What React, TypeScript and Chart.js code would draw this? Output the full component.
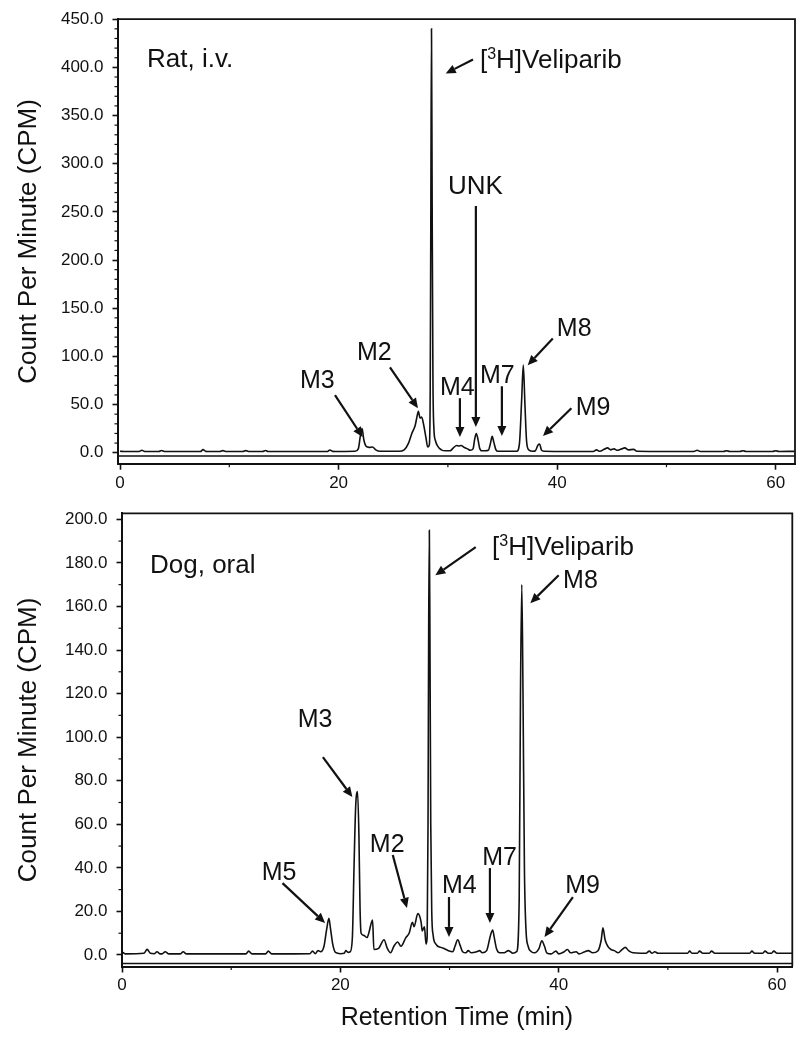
import React, { useEffect, useRef } from 'react';
import { Chart, registerables } from 'chart.js';

Chart.register(...registerables);

const FONT_FAMILY = '"Liberation Sans", Arial, Helvetica, sans-serif';
const INK = '#111111';

// ---------------- data ----------------
// Rat, i.v. chromatogram: retention time (min) and counts per minute
const ratTime = [
  0, 0.5, 1.5, 1.75, 2.0, 2.25, 2.4, 3.55, 3.8, 4.05, 4.2, 6.0, 7.35, 7.6, 7.85, 8.0,
  9.15, 9.4, 9.65, 9.8, 11.25, 11.5, 11.75, 11.9, 13.05, 13.3, 13.55, 13.8, 16.0,
  18.95, 19.2, 19.45, 19.7,
  21.5, 21.8, 22.0, 22.15, 22.3, 22.5, 22.8, 23.1, 23.4, 23.8,
  25.5, 26.0, 26.4, 26.7, 27.0, 27.15, 27.3, 27.45, 27.6, 27.8, 28.0, 28.15,
  28.3, 28.38, 28.44, 28.5, 28.56, 28.63, 28.72, 28.85, 29.05, 29.4, 29.8,
  30.2, 30.5, 30.8, 31.0, 31.2, 31.5, 31.8, 32.05,
  32.3, 32.45, 32.6, 32.75, 32.9, 33.1, 33.4,
  33.7, 33.9, 34.05, 34.2, 34.4, 34.6, 35.5,
  36.3, 36.55, 36.75, 36.9, 37.05, 37.2, 37.4, 37.8,
  38.0, 38.25, 38.4, 38.55, 38.8, 41.0,
  43.3, 43.6, 43.9, 44.3, 44.6, 44.9, 45.2, 45.5, 45.8, 46.2, 46.5, 47.0, 47.3,
  50.0, 52.5, 52.8, 53.1, 55.2, 55.5, 55.8, 56.7, 57.0, 57.3, 59.7, 60.0, 60.3, 61.7,
];
const ratCpm = [
  1.5, 1.2, 1.3, 1.2, 2.5, 1.3, 1.2, 1.2, 2.3, 1.3, 1.2, 1.3, 1.2, 3.2, 1.4, 1.3,
  1.2, 2.2, 1.3, 1.2, 1.2, 2.2, 1.3, 1.2, 1.2, 2.3, 1.3, 1.2, 1.3,
  1.2, 2.8, 1.4, 1.3,
  1.5, 4, 18, 25, 14, 7, 5.5, 6, 3, 1.5,
  1.5, 3, 10, 20, 28, 36, 43, 36, 37, 28, 15, 6,
  8, 60, 250, 440, 260, 80, 25, 13, 7, 3, 2,
  2, 5, 7.5, 7, 7.5, 5.5, 4, 2.5,
  4, 14, 20, 14, 5, 2, 2,
  2.5, 10, 17, 11, 3, 1.5, 1.5,
  1.5, 10, 55, 91, 50, 12, 3, 1.5,
  2, 8, 9, 3, 1.5, 1.3,
  1.3, 3, 1.5, 3.5, 5, 3, 4, 2.5, 3.5, 5, 3, 3.5, 1.5,
  1.3, 1.3, 2.5, 1.3, 1.3, 2.0, 1.3, 1.3, 2.0, 1.3, 1.3, 2.0, 1.3, 1.4,
];

// Dog, oral chromatogram
const dogTime = [
  0, 0.3, 2.0, 2.3, 2.6, 2.95, 3.2, 3.5, 3.7, 3.95, 4.3, 5.35, 5.6, 5.9,
  11.35, 11.6, 11.9, 13.15, 13.4, 13.7,
  17.2, 17.45, 17.7, 17.95, 18.2,
  18.5, 18.75, 18.95, 19.1, 19.3, 19.55, 20.0, 20.35, 20.5, 20.7, 20.9,
  21.1, 21.25, 21.4, 21.57, 21.7, 21.8, 21.9, 22.15, 22.45, 22.6, 22.95, 23.07,
  23.5, 24.0, 24.3, 24.6, 24.9, 25.25, 25.55, 26.0, 26.3, 26.6, 26.75, 27.1, 27.4, 27.5, 27.7, 27.85,
  27.95, 28.03, 28.09, 28.15, 28.21, 28.28, 28.37, 28.5, 28.75, 29.2, 29.5, 29.9,
  30.3, 30.5, 30.75, 31.0, 31.2, 31.5, 31.7, 32.0, 32.5, 32.75, 33.0,
  33.4, 33.75, 33.95, 34.1, 34.3, 34.6, 35.0, 35.4, 35.8,
  36.15, 36.38, 36.5, 36.62, 36.73, 36.86, 37.0, 37.2, 37.5, 37.8,
  38.2, 38.45, 38.7, 38.9, 39.3, 39.75, 40.0, 40.5, 40.8, 41.1, 41.6, 41.85, 42.4, 42.7, 43.1,
  43.6, 43.9, 44.05, 44.25, 44.5, 44.8, 45.1, 45.45, 45.8, 46.1, 46.4, 46.8,
  47.5, 48.0, 48.3, 48.55, 48.8, 49.1, 51.8, 52.0, 52.2, 52.7, 52.9, 53.2, 53.8, 54.0, 54.3,
  57.5, 57.7, 57.95, 58.7, 58.9, 59.2, 59.5, 59.7, 60.0, 61.4,
];
const dogCpm = [
  1.5, 0.5, 0.8, 2.6, 0.8, 0.6, 1.5, 0.5, 0.6, 1.5, 0.5, 0.5, 1.5, 0.5,
  0.5, 1.8, 0.5, 0.5, 1.8, 0.5,
  0.6, 1.8, 0.6, 2, 1.5,
  4, 12, 16.8, 12, 5, 1.2, 0.6, 0.8, 2, 1.2, 1.5,
  8, 40, 68, 75, 55, 22, 10, 9, 8, 10, 16, 2.5,
  3, 7, 3, 1, 4, 6, 4, 8, 10, 15, 13, 19, 15, 11, 13, 5,
  8, 60, 150, 195, 140, 60, 20, 9, 5, 3.5, 3, 2,
  1.5, 4, 7, 4, 1.5, 1, 2, 1, 1.5, 2, 1,
  2, 9, 11.5, 8, 3, 1, 1, 2, 0.8,
  1.5, 25, 120, 170, 120, 40, 12, 4, 1.5, 1,
  3, 6.5, 4, 1, 0.5, 1.8, 0.5, 1.5, 2.5, 1, 1.5, 0.5, 1.5, 2, 1,
  2, 7, 12.5, 7, 4, 2.5, 2, 1, 2.5, 3.5, 2, 1,
  0.8, 0.8, 1.8, 0.8, 1.5, 0.8, 0.8, 1.8, 0.8, 0.8, 1.8, 0.8, 0.8, 1.8, 0.8,
  0.8, 1.8, 0.8, 0.8, 1.8, 0.8, 0.8, 1.8, 0.8, 0.8,
];

// axis ticks
const xTickValues = [0, 20, 40, 60];
const xMinorTickValues = [10, 30, 50];
const ratYTickValues = [0, 50, 100, 150, 200, 250, 300, 350, 400, 450];
const dogYTickValues = [0, 20, 40, 60, 80, 100, 120, 140, 160, 180, 200];

// text
const yTitle = 'Count Per Minute (CPM)';
const xTitle = 'Retention Time (min)';

type Note = { text: string; x: number; y: number; size: number; arrow?: number[] };

// annotations: text anchor (data units) and arrow tail -> head (data units)
const ratNotes: Note[] = [
  { text: 'Rat, i.v.', x: 2.47, y: 400.9, size: 26 },
  { text: '[3H]Veliparib', x: 32.93, y: 398.9, size: 26, arrow: [32.3, 408.2, 29.8, 393.7] },
  { text: 'UNK', x: 30.0, y: 268.6, size: 26, arrow: [32.56, 256.1, 32.56, 26.6] },
  { text: 'M4', x: 29.27, y: 59.7, size: 25, arrow: [31.1, 56.6, 31.1, 16.2] },
  { text: 'M7', x: 32.93, y: 72.1, size: 25, arrow: [34.94, 69.0, 34.94, 17.3] },
  { text: 'M8', x: 39.97, y: 120.7, size: 25, arrow: [39.6, 118.6, 37.3, 90.7] },
  { text: 'M9', x: 41.7, y: 39.0, size: 25, arrow: [41.3, 46.2, 38.7, 17.3] },
  { text: 'M3', x: 16.46, y: 66.9, size: 25, arrow: [19.67, 59.7, 22.2, 16.2] },
  { text: 'M2', x: 21.68, y: 95.9, size: 25, arrow: [24.7, 88.6, 27.26, 46.2] },
];

const dogNotes: Note[] = [
  { text: 'Dog, oral', x: 2.56, y: 175.2, size: 26 },
  { text: '[3H]Veliparib', x: 33.9, y: 183.5, size: 26, arrow: [32.4, 187.2, 28.7, 174.3] },
  { text: 'M8', x: 40.4, y: 168.3, size: 25, arrow: [40.0, 174.3, 37.4, 161.5] },
  { text: 'M3', x: 16.1, y: 104.6, size: 25, arrow: [18.4, 90.8, 21.1, 72.5] },
  { text: 'M2', x: 22.7, y: 47.2, size: 25, arrow: [24.8, 45.9, 26.1, 21.6] },
  { text: 'M5', x: 12.8, y: 34.4, size: 25, arrow: [14.7, 33.0, 18.6, 14.7] },
  { text: 'M4', x: 29.3, y: 28.4, size: 25, arrow: [29.95, 26.6, 29.95, 8.3] },
  { text: 'M7', x: 33.0, y: 41.3, size: 25, arrow: [33.7, 39.9, 33.7, 14.7] },
  { text: 'M9', x: 40.6, y: 28.4, size: 25, arrow: [41.3, 26.6, 38.7, 8.3] },
];

// ---------------- drawing helpers ----------------
function drawArrow(ctx: CanvasRenderingContext2D, x1: number, y1: number, x2: number, y2: number) {
  const ang = Math.atan2(y2 - y1, x2 - x1);
  const head = 10;
  const half = 4.5;
  const bx = x2 - head * Math.cos(ang);
  const by = y2 - head * Math.sin(ang);
  ctx.lineWidth = 2.2;
  ctx.beginPath();
  ctx.moveTo(x1, y1);
  ctx.lineTo(bx, by);
  ctx.stroke();
  ctx.beginPath();
  ctx.moveTo(x2, y2);
  ctx.lineTo(bx + half * Math.sin(ang), by - half * Math.cos(ang));
  ctx.lineTo(bx - half * Math.sin(ang), by + half * Math.cos(ang));
  ctx.closePath();
  ctx.fill();
}

function drawNoteText(ctx: CanvasRenderingContext2D, text: string, px: number, py: number, size: number) {
  ctx.textAlign = 'left';
  ctx.textBaseline = 'alphabetic';
  const big = `${size}px ${FONT_FAMILY}`;
  const small = `${Math.round(size * 0.62)}px ${FONT_FAMILY}`;
  const m = text.match(/^\[(\d)([A-Z])\](.*)$/);
  if (!m) {
    ctx.font = big;
    ctx.fillText(text, px, py);
    return;
  }
  let x = px;
  ctx.font = big;
  ctx.fillText('[', x, py);
  x += ctx.measureText('[').width;
  ctx.font = small;
  ctx.fillText(m[1], x, py - size * 0.36);
  x += ctx.measureText(m[1]).width;
  ctx.font = big;
  ctx.fillText(m[2] + ']' + m[3], x, py);
}

type PanelCfg = {
  time: number[];
  cpm: number[];
  xMin: number;
  xMax: number;
  yMin: number;
  yMax: number;
  yTicks: number[];
  yMinorStep: number;
  boxBottom: number;
  notes: Note[];
  padding: { top: number; right: number; bottom: number; left: number };
  yAxisWidth: number;
  xAxisHeight: number;
  showXTitle: boolean;
};

function decorPlugin(cfg: PanelCfg) {
  return {
    id: 'decor',
    afterDraw(chart: any) {
      const { ctx, chartArea: a, scales } = chart;
      const xs = scales.x;
      const ys = scales.y;
      ctx.save();
      ctx.strokeStyle = INK;
      ctx.fillStyle = INK;
      ctx.lineWidth = 1.8;
      // frame: top and right
      ctx.beginPath();
      ctx.moveTo(a.left, a.top);
      ctx.lineTo(a.right, a.top);
      ctx.lineTo(a.right, a.bottom);
      ctx.stroke();
      // inner frame bottom line
      const yb = ys.getPixelForValue(cfg.boxBottom);
      ctx.lineWidth = 1.5;
      ctx.beginPath();
      ctx.moveTo(a.left, yb);
      ctx.lineTo(a.right, yb);
      ctx.stroke();
      // minor y ticks
      const majorStep = cfg.yTicks[1] - cfg.yTicks[0];
      ctx.lineWidth = 1.2;
      for (let v = 0; v <= cfg.yTicks[cfg.yTicks.length - 1]; v += cfg.yMinorStep) {
        if (Math.abs(v % majorStep) < 1e-6) continue;
        const py = ys.getPixelForValue(v);
        ctx.beginPath();
        ctx.moveTo(a.left - 3, py);
        ctx.lineTo(a.left + 1, py);
        ctx.stroke();
      }
      // minor x ticks
      for (const v of xMinorTickValues) {
        const px = xs.getPixelForValue(v);
        ctx.beginPath();
        ctx.moveTo(px, a.bottom);
        ctx.lineTo(px, a.bottom + 3.5);
        ctx.stroke();
      }
      // annotations
      for (const n of cfg.notes) {
        if (n.arrow) {
          drawArrow(
            ctx,
            xs.getPixelForValue(n.arrow[0]),
            ys.getPixelForValue(n.arrow[1]),
            xs.getPixelForValue(n.arrow[2]),
            ys.getPixelForValue(n.arrow[3])
          );
        }
        drawNoteText(ctx, n.text, xs.getPixelForValue(n.x), ys.getPixelForValue(n.y), n.size);
      }
      ctx.restore();
    },
  };
}

function makeChart(canvas: HTMLCanvasElement, cfg: PanelCfg) {
  const points = cfg.time.map((t, i) => ({ x: t, y: cfg.cpm[i] }));
  return new Chart(canvas, {
    type: 'line',
    data: {
      datasets: [
        {
          data: points,
          borderColor: INK,
          borderWidth: 1.6,
          pointRadius: 0,
          fill: false,
          cubicInterpolationMode: 'monotone',
        },
      ],
    },
    options: {
      animation: false,
      responsive: false,
      maintainAspectRatio: false,
      devicePixelRatio: 1,
      layout: { padding: cfg.padding },
      plugins: { legend: { display: false }, tooltip: { enabled: false } },
      scales: {
        x: {
          type: 'linear',
          min: cfg.xMin,
          max: cfg.xMax,
          afterBuildTicks: (s: any) => {
            s.ticks = xTickValues.map((v) => ({ value: v }));
          },
          afterFit: (s: any) => {
            s.height = cfg.xAxisHeight;
          },
          grid: { drawOnChartArea: false, drawTicks: true, tickLength: 6, tickColor: INK, tickWidth: 1.6 },
          border: { display: true, color: INK, width: 2 },
          ticks: {
            color: INK,
            font: { family: FONT_FAMILY, size: 17 },
            padding: 3,
            maxRotation: 0,
            autoSkip: false,
            callback: (v: any) => String(v),
          },
          title: {
            display: cfg.showXTitle,
            text: xTitle,
            color: INK,
            font: { family: FONT_FAMILY, size: 25 },
            padding: { top: 0, bottom: 6 },
          },
        },
        y: {
          type: 'linear',
          min: cfg.yMin,
          max: cfg.yMax,
          afterBuildTicks: (s: any) => {
            s.ticks = cfg.yTicks.map((v) => ({ value: v }));
          },
          afterFit: (s: any) => {
            s.width = cfg.yAxisWidth;
          },
          grid: { drawOnChartArea: false, drawTicks: true, tickLength: 5, tickColor: INK, tickWidth: 1.6 },
          border: { display: true, color: INK, width: 2 },
          ticks: {
            color: INK,
            font: { family: FONT_FAMILY, size: 17 },
            padding: 9,
            autoSkip: false,
            callback: (v: any) => Number(v).toFixed(1),
          },
          title: {
            display: true,
            text: yTitle,
            color: INK,
            font: { family: FONT_FAMILY, size: 26 },
            padding: { top: 13, bottom: 0 },
          },
        },
      },
    },
    plugins: [decorPlugin(cfg)],
  } as any);
}

const ratCfg: PanelCfg = {
  time: ratTime,
  cpm: ratCpm,
  xMin: -0.23,
  xMax: 61.76,
  yMin: -11.4,
  yMax: 450,
  yTicks: ratYTickValues,
  yMinorStep: 10,
  boxBottom: -3.4,
  notes: ratNotes,
  padding: { top: 17.5, right: 14, bottom: 0, left: 0 },
  yAxisWidth: 117.5,
  xAxisHeight: 26.3,
  showXTitle: false,
};

const dogCfg: PanelCfg = {
  time: dogTime,
  cpm: dogCpm,
  xMin: -0.05,
  xMax: 61.4,
  yMin: -5.28,
  yMax: 202.75,
  yTicks: dogYTickValues,
  yMinorStep: 10,
  boxBottom: -3.9,
  notes: dogNotes,
  padding: { top: 23.3, right: 16.7, bottom: 0, left: 0 },
  yAxisWidth: 121.5,
  xAxisHeight: 72.5,
  showXTitle: true,
};

function Panel({ cfg, top, height }: { cfg: PanelCfg; top: number; height: number }) {
  const ref = useRef<HTMLCanvasElement | null>(null);
  useEffect(() => {
    if (!ref.current) return;
    const chart = makeChart(ref.current, cfg);
    return () => chart.destroy();
  }, [cfg]);
  return (
    <canvas
      ref={ref}
      width={809}
      height={height}
      style={{ position: 'absolute', left: 0, top, width: 809, height }}
    />
  );
}

export default function App() {
  return (
    <div style={{ position: 'absolute', left: 0, top: 0, width: 809, height: 1039, background: '#fff' }}>
      <Panel cfg={ratCfg} top={0} height={490} />
      <Panel cfg={dogCfg} top={490} height={549} />
    </div>
  );
}
